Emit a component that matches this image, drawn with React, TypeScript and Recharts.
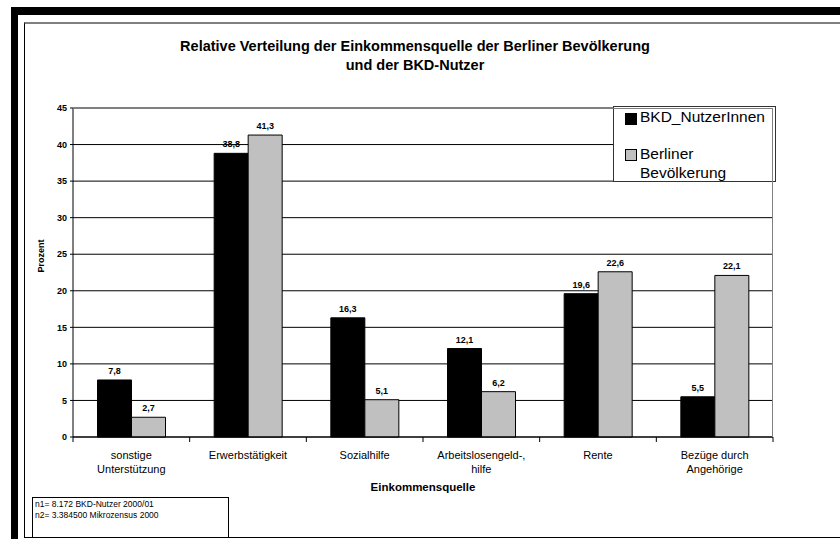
import React from "react";
import {
  BarChart,
  Bar,
  XAxis,
  YAxis,
  CartesianGrid,
  Legend,
  LabelList,
} from "recharts";

const categories = [
  "sonstige\nUnterstützung",
  "Erwerbstätigkeit",
  "Sozialhilfe",
  "Arbeitslosengeld-,\nhilfe",
  "Rente",
  "Bezüge durch\nAngehörige",
];
const bkdNutzer = [7.8, 38.8, 16.3, 12.1, 19.6, 5.5];
const berliner = [2.7, 41.3, 5.1, 6.2, 22.6, 22.1];
const yTicks = [0, 5, 10, 15, 20, 25, 30, 35, 40, 45];

const data = categories.map((name, i) => ({
  name,
  bkd: bkdNutzer[i],
  berlin: berliner[i],
}));

const FONT = '"Liberation Sans", Arial, Helvetica, sans-serif';
const PLOT_LEFT = 73;
const PLOT_RIGHT = 773;
const PLOT_TOP = 108;
const PLOT_BOTTOM = 437;
const BAND = (PLOT_RIGHT - PLOT_LEFT) / categories.length;

const fmt = (v: any) => String(v).replace(".", ",");

function CategoryTick(props: any) {
  const { x, payload, index } = props;
  const lines = String(payload.value).split("\n");
  const left = x - BAND / 2;
  return (
    <g>
      <line x1={left} x2={left} y1={PLOT_BOTTOM} y2={PLOT_BOTTOM + 5} stroke="#000" />
      {index === categories.length - 1 && (
        <line x1={x + BAND / 2} x2={x + BAND / 2} y1={PLOT_BOTTOM} y2={PLOT_BOTTOM + 5} stroke="#000" />
      )}
      <text x={x} y={PLOT_BOTTOM + 22} textAnchor="middle" fontSize={11} fontFamily={FONT} fill="#000">
        {lines.map((l, i) => (
          <tspan key={i} x={x} dy={i === 0 ? 0 : 14}>
            {l}
          </tspan>
        ))}
      </text>
    </g>
  );
}

function LegendBox() {
  return (
    <div
      style={{
        width: 161,
        height: 74,
        border: "1px solid #333",
        background: "#fff",
        fontFamily: FONT,
        fontSize: 15.5,
        color: "#000",
        position: "relative",
      }}
    >
      <div style={{ position: "absolute", left: 11, top: 6, width: 10, height: 10, background: "#000", border: "1px solid #000" }} />
      <div style={{ position: "absolute", left: 26, top: 1, lineHeight: "18px" }}>BKD_NutzerInnen</div>
      <div style={{ position: "absolute", left: 11, top: 42, width: 10, height: 10, background: "#c0c0c0", border: "1px solid #000" }} />
      <div style={{ position: "absolute", left: 26, top: 37, lineHeight: "19px" }}>
        Berliner
        <br />
        Bevölkerung
      </div>
    </div>
  );
}

export default function App() {
  return (
    <div style={{ position: "absolute", left: 0, top: 0, width: 840, height: 545, background: "#fff", overflow: "hidden", fontFamily: FONT }}>
      {/* outer shadow bands */}
      <div style={{ position: "absolute", left: 11, top: 7, width: 829, height: 8, background: "#000" }} />
      <div style={{ position: "absolute", left: 11, top: 7, width: 7, height: 532, background: "#000" }} />
      {/* chart frame */}
      <div
        style={{
          position: "absolute",
          left: 24,
          top: 22,
          width: 830,
          height: 516,
          borderTop: "2px solid #808080",
          borderLeft: "1px solid #000",
          borderBottom: "1px solid #000",
          boxSizing: "border-box",
        }}
      />
      <div
        style={{
          position: "absolute",
          left: 0,
          width: 840,
          top: 37,
          textAlign: "center",
          fontWeight: "bold",
          fontSize: 14.5,
          lineHeight: "19px",
        }}
      >
        <div style={{ position: "relative", left: -5 }}>
          Relative Verteilung der Einkommensquelle der Berliner Bevölkerung
          <br />
          und der BKD-Nutzer
        </div>
      </div>
      <div style={{ position: "absolute", left: 0, top: 0 }}>
        <BarChart
          width={840}
          height={545}
          data={data}
          margin={{ top: PLOT_TOP, right: 840 - PLOT_RIGHT, bottom: 68, left: PLOT_LEFT - 40 }}
          barCategoryGap="21%"
          barGap={0}
        >
          <CartesianGrid horizontal vertical={false} stroke="#000" strokeWidth={1} />
          <XAxis
            dataKey="name"
            tick={<CategoryTick />}
            tickLine={false}
            axisLine={{ stroke: "#000" }}
            height={40}
            interval={0}
            label={{
              value: "Einkommensquelle",
              position: "bottom",
              offset: 6,
              fontSize: 11.5,
              fontWeight: "bold",
              fontFamily: FONT,
              fill: "#000",
            }}
          />
          <YAxis
            width={40}
            domain={[0, 45]}
            ticks={yTicks}
            interval={0}
            tickSize={3}
            tickMargin={3}
            tickLine={{ stroke: "#000" }}
            axisLine={{ stroke: "#000" }}
            tick={{ fontSize: 9, fontWeight: "bold", fontFamily: FONT, fill: "#000" }}
            label={{
              value: "Prozent",
              angle: -90,
              position: "insideLeft",
              offset: 8,
              fontSize: 9,
              fontWeight: "bold",
              fontFamily: FONT,
              fill: "#000",
            }}
          />
          <Legend
            verticalAlign="middle"
            layout="horizontal"
            content={() => <LegendBox />}
            wrapperStyle={{ position: "absolute", left: 613, top: 106, width: 163, height: 76 }}
          />
          <Bar dataKey="bkd" name="BKD_NutzerInnen" fill="#000" stroke="#000" strokeWidth={1} isAnimationActive={false}>
            <LabelList dataKey="bkd" position="top" offset={6} formatter={fmt} fontSize={9} fontWeight="bold" fontFamily={FONT} fill="#000" />
          </Bar>
          <Bar dataKey="berlin" name="Berliner Bevölkerung" fill="#c0c0c0" stroke="#000" strokeWidth={1} isAnimationActive={false}>
            <LabelList dataKey="berlin" position="top" offset={6} formatter={fmt} fontSize={9} fontWeight="bold" fontFamily={FONT} fill="#000" />
          </Bar>
        </BarChart>
      </div>
      {/* plot border top and right */}
      <div
        style={{
          position: "absolute",
          left: PLOT_LEFT,
          top: PLOT_TOP,
          width: PLOT_RIGHT - PLOT_LEFT,
          height: PLOT_BOTTOM - PLOT_TOP,
          borderTop: "1px solid #808080",
          borderRight: "1px solid #808080",
          boxSizing: "border-box",
          pointerEvents: "none",
        }}
      />
      <div
        style={{
          position: "absolute",
          left: 32,
          top: 497,
          width: 197,
          height: 41,
          border: "1px solid #000",
          boxSizing: "border-box",
          background: "#fff",
          fontSize: 8.5,
          lineHeight: "11px",
          padding: "1px 2px",
        }}
      >
        n1= 8.172 BKD-Nutzer 2000/01
        <br />
        n2= 3.384500 Mikrozensus 2000
      </div>
    </div>
  );
}
